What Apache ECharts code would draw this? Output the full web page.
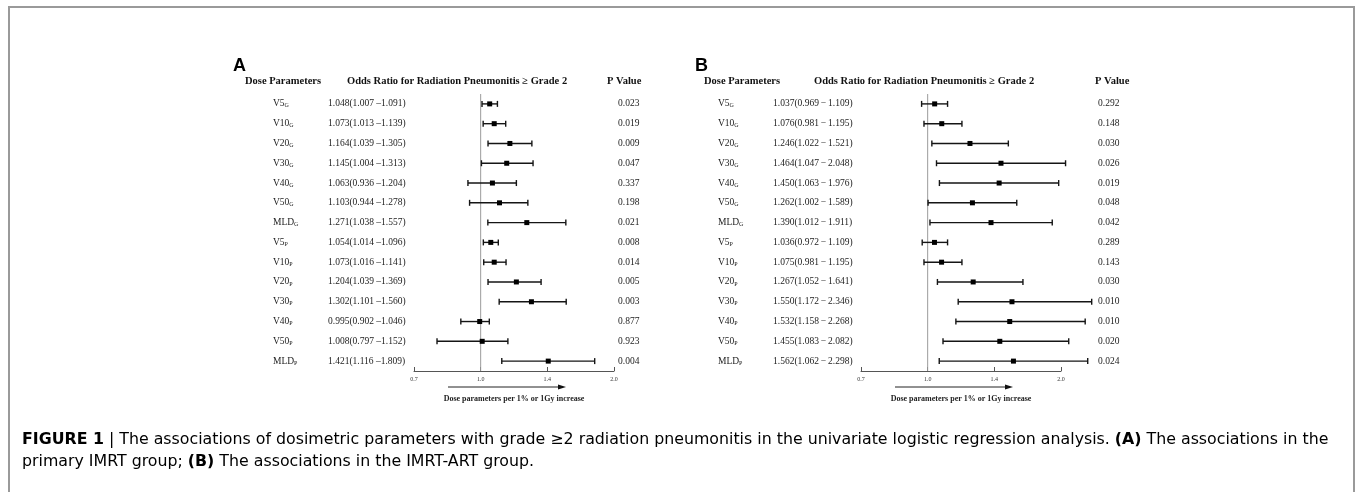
<!DOCTYPE html>
<html><head><meta charset="utf-8">
<script src="https://cdn.jsdelivr.net/npm/echarts@6/dist/echarts.min.js"></script>
<style>html,body{margin:0;padding:0;background:#fff}#c{width:1357px;height:492px}</style>
</head><body><div id="c"></div>
<script>
// ---- data ----
const paramBase = ['V5','V10','V20','V30','V40','V50','MLD','V5','V10','V20','V30','V40','V50','MLD'];
const paramSub  = ['G','G','G','G','G','G','G','P','P','P','P','P','P','P'];
const categories = paramBase.map((b, i) => b + paramSub[i]);

const orA = [1.048, 1.073, 1.164, 1.145, 1.063, 1.103, 1.271, 1.054, 1.073, 1.204, 1.302, 0.995, 1.008, 1.421];
const loA = [1.007, 1.013, 1.039, 1.004, 0.936, 0.944, 1.038, 1.014, 1.016, 1.039, 1.101, 0.902, 0.797, 1.116];
const hiA = [1.091, 1.139, 1.305, 1.313, 1.204, 1.278, 1.557, 1.096, 1.141, 1.369, 1.560, 1.046, 1.152, 1.809];
const pA  = ['0.023','0.019','0.009','0.047','0.337','0.198','0.021','0.008','0.014','0.005','0.003','0.877','0.923','0.004'];

const orB = [1.037, 1.076, 1.246, 1.464, 1.450, 1.262, 1.390, 1.036, 1.075, 1.267, 1.550, 1.532, 1.455, 1.562];
const loB = [0.969, 0.981, 1.022, 1.047, 1.063, 1.002, 1.012, 0.972, 0.981, 1.052, 1.172, 1.158, 1.083, 1.062];
const hiB = [1.109, 1.195, 1.521, 2.048, 1.976, 1.589, 1.911, 1.109, 1.195, 1.641, 2.346, 2.268, 2.082, 2.298];
const pB  = ['0.292','0.148','0.030','0.026','0.019','0.048','0.042','0.289','0.143','0.030','0.010','0.010','0.020','0.024'];

const xTickLabels = ['0.7', '1.0', '1.4', '2.0'];
const refValue = 1.0;
const xMin = Math.SQRT1_2, xMax = 2;

// ---- helpers ----
const SERIF = '"Liberation Serif", "DejaVu Serif", serif';
const SANS = '"Liberation Sans", Arial, sans-serif';
const CAPF = '"DejaVu Sans", "Liberation Sans", sans-serif';
const f3 = v => v.toFixed(3);
const orTextA = orA.map((v, i) => f3(v) + '(' + f3(loA[i]) + ' \u2013' + f3(hiA[i]) + ')');
const orTextB = orB.map((v, i) => f3(v) + '(' + f3(loB[i]) + '\u2009\u2212\u2009' + f3(hiB[i]) + ')');

const nameRich = {
  n: {fontFamily: SERIF, fontSize: 9.5, color: '#222'},
  s: {fontFamily: SERIF, fontSize: 6, color: '#222', verticalAlign: 'bottom', padding: [2, 0, 0, 0]}
};

function renderCI(params, api) {
  const y = api.value(3);
  const lo = api.coord([api.value(0), y]);
  const hi = api.coord([api.value(1), y]);
  const mid = api.coord([api.value(2), y]);
  const cap = 3;
  const st = {stroke: '#151515', lineWidth: 1.4};
  return {type: 'group', children: [
    {type: 'line', shape: {x1: lo[0], y1: lo[1], x2: hi[0], y2: hi[1]}, style: st},
    {type: 'line', shape: {x1: lo[0], y1: lo[1] - cap, x2: lo[0], y2: lo[1] + cap}, style: st},
    {type: 'line', shape: {x1: hi[0], y1: hi[1] - cap, x2: hi[0], y2: hi[1] + cap}, style: st},
    {type: 'rect', shape: {x: mid[0] - 2.5, y: mid[1] - 2.5, width: 5, height: 5}, style: {fill: '#000'}}
  ]};
}
function renderRef(params, api) {
  const cs = params.coordSys;
  const p = api.coord([api.value(0), 0]);
  return {type: 'line', shape: {x1: p[0], y1: cs.y, x2: p[0], y2: cs.y + cs.height},
    style: {stroke: '#9c9c9c', lineWidth: 1}};
}

const panels = [
  {left: 414, or: orA, lo: loA, hi: hiA, p: pA, orText: orTextA, nameX: 273, orX: 328, pX: 618,
   letter: 'A', letterX: 233, hdrDose: 245, hdrOR: 347, hdrP: 607},
  {left: 861, or: orB, lo: loB, hi: hiB, p: pB, orText: orTextB, nameX: 718, orX: 773, pX: 1098,
   letter: 'B', letterX: 695, hdrDose: 704, hdrOR: 814, hdrP: 1095}
];
const gridW = 200, gridTop = 94, gridH = 277;

const grid = [], xAxis = [], yAxis = [], series = [], graphic = [];
panels.forEach((pn, k) => {
  grid.push({left: pn.left, top: gridTop, width: gridW, height: gridH});
  xAxis.push({
    type: 'log', logBase: Math.SQRT2, gridIndex: k, min: xMin, max: xMax,
    splitLine: {show: false},
    axisLine: {show: true, onZero: false, lineStyle: {color: '#555', width: 1}},
    axisTick: {show: true, inside: true, length: 4, lineStyle: {color: '#555'}},
    axisLabel: {fontFamily: SERIF, fontSize: 6, color: '#333', margin: 5,
      formatter: (v, i) => xTickLabels[i] !== undefined ? xTickLabels[i] : v.toFixed(1)},
    name: 'Dose parameters per 1% or 1Gy increase', nameLocation: 'middle', nameGap: 24,
    nameTextStyle: {fontFamily: SERIF, fontSize: 8, fontWeight: 'bold', color: '#222'}
  });
  const base = {type: 'category', gridIndex: k, data: categories, inverse: true,
    axisLine: {show: false}, axisTick: {show: false}, splitLine: {show: false}};
  yAxis.push(Object.assign({}, base, {position: 'left',
    axisLabel: {align: 'left', margin: pn.left - pn.nameX, rich: nameRich,
      formatter: (v, i) => '{n|' + paramBase[i] + '}{s|' + paramSub[i] + '}'}}));
  yAxis.push(Object.assign({}, base, {position: 'left',
    axisLabel: {align: 'left', margin: pn.left - pn.orX, fontFamily: SERIF, fontSize: 9.5, color: '#222',
      formatter: (v, i) => pn.orText[i]}}));
  yAxis.push(Object.assign({}, base, {position: 'right',
    axisLabel: {align: 'left', margin: pn.pX - pn.left - gridW, fontFamily: SERIF, fontSize: 9.5, color: '#222',
      formatter: (v, i) => pn.p[i]}}));

  series.push({
    type: 'custom', xAxisIndex: k, yAxisIndex: k * 3, clip: false,
    renderItem: renderRef, encode: {x: 0, y: 1},
    data: [[refValue, 0]], z: 1, silent: true
  });
  series.push({
    type: 'custom', xAxisIndex: k, yAxisIndex: k * 3, clip: false,
    renderItem: renderCI,
    encode: {x: [0, 1, 2], y: 3},
    data: pn.or.map((v, i) => [pn.lo[i], pn.hi[i], v, i]),
    z: 3
  });

  const hdr = {fontFamily: SERIF, fontSize: 10.5, fontWeight: 'bold', fill: '#111', verticalAlign: 'middle'};
  graphic.push({type: 'text', left: pn.letterX, top: 57, style: {text: pn.letter, font: 'bold 18px ' + SANS, fill: '#000'}});
  graphic.push({type: 'text', x: pn.hdrDose, y: 81, style: Object.assign({text: 'Dose Parameters'}, hdr)});
  graphic.push({type: 'text', x: pn.hdrOR, y: 81, style: Object.assign({text: 'Odds Ratio for Radiation Pneumonitis \u2265 Grade 2'}, hdr)});
  graphic.push({type: 'text', x: pn.hdrP, y: 81, style: Object.assign({text: 'P Value'}, hdr)});
  const ax1 = pn.left + 34, ax2 = pn.left + 152, ay = 387;
  graphic.push({type: 'line', shape: {x1: ax1, y1: ay, x2: ax2 - 6, y2: ay}, style: {stroke: '#222', lineWidth: 1}});
  graphic.push({type: 'polygon', shape: {points: [[ax2, ay], [ax2 - 8, ay - 2.5], [ax2 - 8, ay + 2.5]]}, style: {fill: '#111'}});
});

graphic.push({type: 'rect', shape: {x: 9, y: 7, width: 1345, height: 600}, style: {fill: 'none', stroke: '#9a9a9a', lineWidth: 2}, z: -1});
const capRich = {
  b: {fontFamily: CAPF, fontSize: 15.8, fontWeight: 'bold', color: '#333'},
  bar: {fontFamily: CAPF, fontSize: 15.8, color: '#999'},
  t: {fontFamily: CAPF, fontSize: 15.8, color: '#333'}
};
graphic.push({type: 'text', x: 22, y: 440, style: {
  text: '{b|FIGURE 1}{bar| | }{t|The associations of dosimetric parameters with grade \u22652 radiation pneumonitis in the univariate logistic regression analysis. }{b|(A)}{t| The associations in the}',
  rich: capRich, verticalAlign: 'middle'}});
graphic.push({type: 'text', x: 22, y: 462, style: {
  text: '{t|primary IMRT group; }{b|(B)}{t| The associations in the IMRT-ART group.}',
  rich: capRich, verticalAlign: 'middle'}});

const chart = echarts.init(document.getElementById('c'), null, {renderer: 'canvas'});
chart.setOption({animation: false, backgroundColor: '#fff', grid, xAxis, yAxis, series, graphic});
</script></body></html>
